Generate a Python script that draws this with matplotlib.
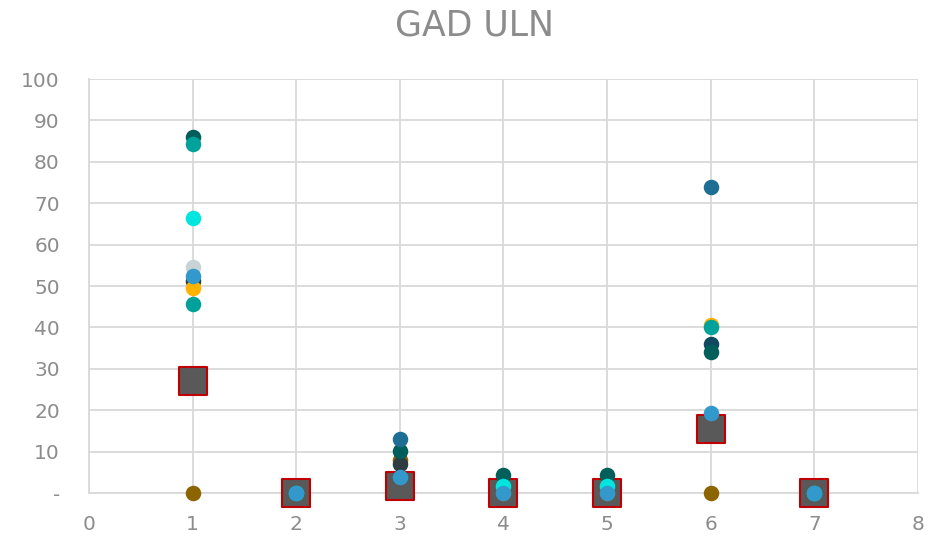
import matplotlib
matplotlib.use('Agg')
import matplotlib.pyplot as plt
import numpy as np

x = [1, 2, 3, 4, 5, 6, 7]

# GAD ULN values per series (None = no point)
dark_teal = [86.0, 0, 10.1, 4.3, 4.3, 34.0, 0]
teal = [84.3, None, None, None, None, 40.1, None]
cyan = [66.4, 0, None, 1.7, 1.7, None, 0]
light_grey = [54.5, None, None, None, None, None, None]
charcoal = [51.2, None, 7.0, None, None, None, None]
amber = [49.5, None, None, None, None, 40.6, None]
teal2 = [45.6, None, None, None, None, None, None]
brown = [0, 0, 8.0, 0, 0, 0, 0]
steel = [None, None, 13.0, None, None, 73.9, None]
navy = [None, None, None, None, None, 36.0, None]
sky = [52.3, 0, 3.9, 0, 0, 19.3, 0]
mean_vals = [27.1, 0, 1.7, 0, 0, 15.5, 0]

series = [
    (brown, '#8C6400'),
    (navy, '#0F4A5F'),
    (charcoal, '#2E3B40'),
    (amber, '#FFB300'),
    (light_grey, '#C9D3D6'),
    (teal2, '#00A19A'),
    (dark_teal, '#005F5A'),
    (teal, '#00A39C'),
    (cyan, '#00E5DE'),
    (steel, '#1F6E94'),
    (sky, '#3399CC'),
]

fig, ax = plt.subplots(figsize=(9.29, 5.41), dpi=100)
fig.subplots_adjust(left=89/929, right=918/929, bottom=48/541, top=462/541)

ax.scatter(x, mean_vals, marker='s', s=400, color='#595959', edgecolor='#C00000',
           linewidth=1.5, zorder=3, clip_on=False)

for vals, col in series:
    xs = [xi for xi, v in zip(x, vals) if v is not None]
    ys = [v for v in vals if v is not None]
    ax.scatter(xs, ys, s=125, color=col, linewidth=0, zorder=4, clip_on=False)

ax.set_xlim(0, 8)
ax.set_ylim(0, 100)
ax.set_xticks(range(0, 9))
ax.set_yticks(range(0, 101, 10))
ax.set_yticklabels(['-'] + [str(v) for v in range(10, 101, 10)])
ax.grid(True, color='#D9D9D9', linewidth=1.3)
ax.set_axisbelow(True)
for s in ['top', 'right']:
    ax.spines[s].set_visible(False)
for s in ['left', 'bottom']:
    ax.spines[s].set_color('#D9D9D9')
    ax.spines[s].set_linewidth(1.3)
ax.tick_params(length=0, labelsize=14.5, colors='#8C8C8C')
ax.tick_params(axis='y', pad=21)
ax.tick_params(axis='x', pad=16)
fig.suptitle('GAD ULN', x=0.511, y=0.985, fontsize=25, color='#8C8C8C')

fig.savefig('out.png', dpi=100)
